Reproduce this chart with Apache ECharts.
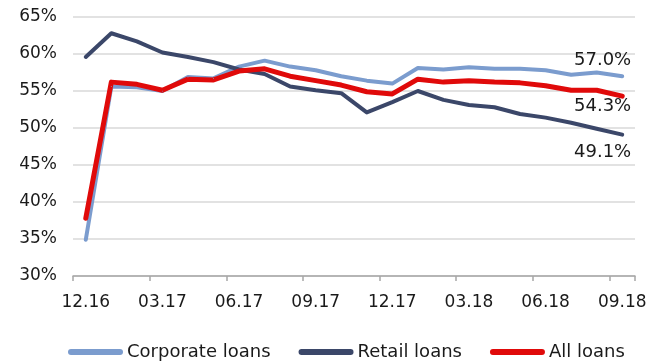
<!DOCTYPE html>
<html>
<head>
<meta charset="utf-8">
<script src="https://cdn.jsdelivr.net/npm/echarts@6/dist/echarts.min.js"></script>
<style>
  html, body { margin: 0; padding: 0; background: #fff; }
  #chart { width: 659px; height: 362px; }
</style>
</head>
<body>
<div id="chart"></div>
<script>
// Monthly periods, 12.2016 – 09.2018
const categories = ['12.16','01.17','02.17','03.17','04.17','05.17','06.17','07.17','08.17','09.17','10.17','11.17',
                    '12.17','01.18','02.18','03.18','04.18','05.18','06.18','07.18','08.18','09.18'];

// Shares in percent
const corporateLoans = [34.9,55.6,55.5,55.0,56.9,56.7,58.3,59.1,58.3,57.8,57.0,56.4,56.0,58.1,57.9,58.2,58.0,58.0,57.8,57.2,57.5,57.0];
const retailLoans    = [59.6,62.8,61.7,60.2,59.6,58.9,57.9,57.3,55.6,55.1,54.7,52.1,53.5,55.0,53.8,53.1,52.8,51.9,51.4,50.7,49.9,49.1];
const allLoans       = [37.8,56.2,55.9,55.1,56.6,56.5,57.7,58.0,57.0,56.4,55.8,54.9,54.6,56.6,56.2,56.4,56.2,56.1,55.7,55.1,55.1,54.3];

const seriesNames = ['Corporate loans', 'Retail loans', 'All loans'];
const yTicks = { min: 30, max: 65, step: 5 };

const FONT = 'DejaVu Sans';
const TEXT = '#1a1a1a';

// Label only the final point of each series, placed beside the line end
function withEndLabel(values, dy) {
  return values.map((v, i) => {
    if (i !== values.length - 1) return v;
    return {
      value: v,
      label: {
        show: true,
        position: 'inside',
        align: 'right',
        verticalAlign: 'middle',
        offset: [9, dy],
        formatter: p => p.value.toFixed(1) + '%',
        fontFamily: FONT,
        fontSize: 18,
        color: TEXT
      }
    };
  });
}

function lineSeries(name, values, color, width, dy) {
  return {
    name: name,
    type: 'line',
    data: withEndLabel(values, dy),
    symbol: 'circle',
    symbolSize: 1,
    showSymbol: true,
    itemStyle: { color: color },
    lineStyle: { color: color, width: width, join: 'round', cap: 'round' },
    emphasis: { disabled: true },
    z: 2
  };
}

const legendIcon = 'path://M3,0 H52 A3,3 0 0 1 52,6 H3 A3,3 0 0 1 3,0 Z';

const chart = echarts.init(document.getElementById('chart'), null, { renderer: 'canvas' });
chart.setOption({
  animation: false,
  backgroundColor: '#ffffff',
  textStyle: { fontFamily: FONT },
  grid: { left: 73, right: 24, top: 17, bottom: 86, containLabel: false },
  legend: {
    bottom: -4,
    left: 63,
    itemWidth: 55,
    itemHeight: 6,
    itemGap: 28,
    icon: legendIcon,
    data: seriesNames,
    textStyle: { fontFamily: FONT, fontSize: 18, color: TEXT, padding: [0, 0, 0, -1] }
  },
  xAxis: {
    type: 'category',
    data: categories,
    boundaryGap: true,
    axisLine: { show: true, lineStyle: { color: '#a6a6a6', width: 1.5 } },
    axisTick: { show: true, interval: 2, length: 5, lineStyle: { color: '#a6a6a6', width: 1.5 } },
    axisLabel: { interval: 2, margin: 18, fontFamily: FONT, fontSize: 17, color: TEXT },
    splitLine: { show: false }
  },
  yAxis: {
    type: 'value',
    min: yTicks.min,
    max: yTicks.max,
    interval: yTicks.step,
    axisLine: { show: false },
    axisTick: { show: false },
    axisLabel: { formatter: '{value}%', margin: 16, fontFamily: FONT, fontSize: 17, color: TEXT },
    splitLine: { show: true, lineStyle: { color: '#d9d9d9', width: 1.5 } }
  },
  series: [
    lineSeries(seriesNames[0], corporateLoans, '#7b9cce', 4, -16),
    lineSeries(seriesNames[1], retailLoans, '#3b4769', 4, 18),
    lineSeries(seriesNames[2], allLoans, '#e00a0a', 5, 10)
  ]
});
</script>
</body>
</html>
